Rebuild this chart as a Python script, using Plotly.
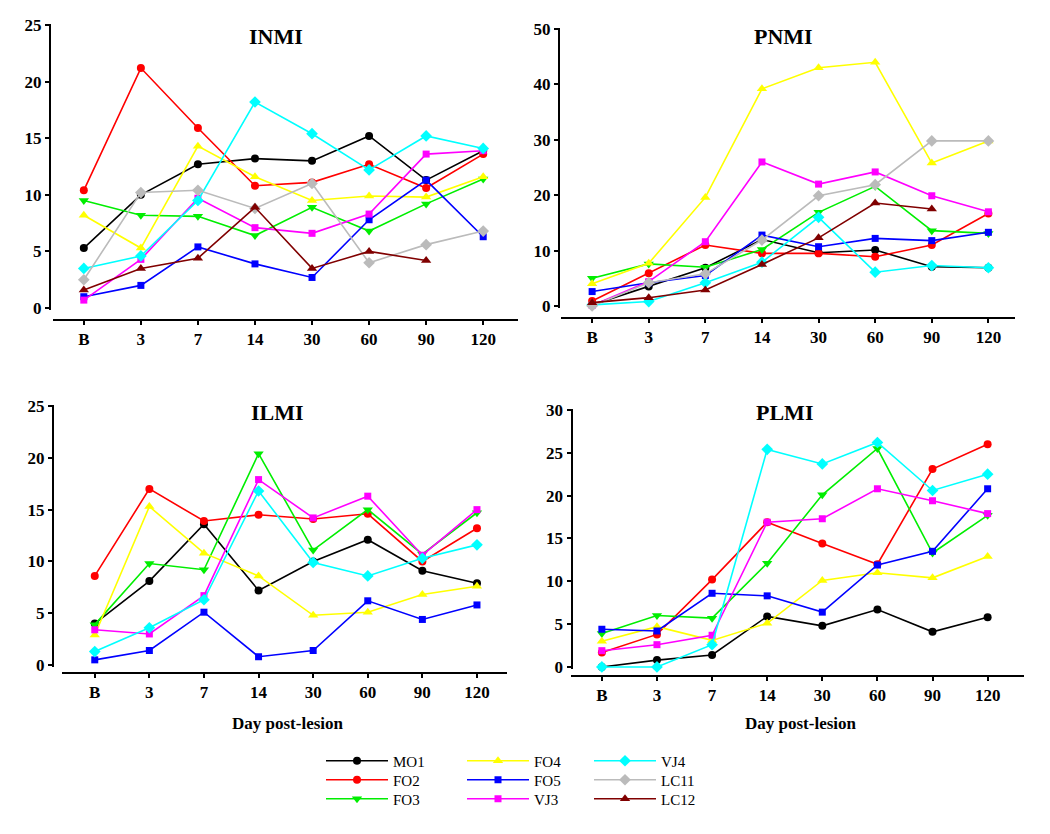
import plotly.graph_objects as go

# ---------------- data ----------------
days = ["B", "3", "7", "14", "30", "60", "90", "120"]

series_names = ["MO1", "FO2", "FO3", "FO4", "FO5", "VJ3", "VJ4", "LC11", "LC12"]

INMI = {
    "MO1": [5.3, 10.0, 12.7, 13.2, 13.0, 15.2, 11.3, 13.9],
    "FO2": [10.4, 21.2, 15.9, 10.8, 11.1, 12.7, 10.6, 13.6],
    "FO3": [9.5, 8.2, 8.1, 6.4, 8.9, 6.8, 9.2, 11.4],
    "FO4": [8.2, 5.3, 14.3, 11.6, 9.5, 9.9, 9.8, 11.6],
    "FO5": [1.0, 2.0, 5.4, 3.9, 2.7, 7.8, 11.3, 6.3],
    "VJ3": [0.7, 4.3, 9.7, 7.1, 6.6, 8.3, 13.6, 13.9],
    "VJ4": [3.5, 4.6, 9.5, 18.2, 15.4, 12.2, 15.2, 14.1],
    "LC11": [2.5, 10.2, 10.4, 8.8, 11.0, 4.0, 5.6, 6.8],
    "LC12": [1.6, 3.5, 4.4, 8.9, 3.5, 5.0, 4.2, None],
}

PNMI = {
    "MO1": [0.2, 3.5, 6.9, 12.0, 9.6, 10.1, 7.1, 6.9],
    "FO2": [0.9, 5.9, 11.0, 9.5, 9.5, 8.9, 11.0, 16.7],
    "FO3": [5.0, 7.6, 7.0, 10.2, 16.9, 21.6, 13.6, 13.1],
    "FO4": [4.0, 7.7, 19.6, 39.2, 43.0, 44.0, 25.8, 29.8],
    "FO5": [2.6, 4.2, 5.5, 12.8, 10.7, 12.2, 11.8, 13.3],
    "VJ3": [0.1, 4.4, 11.6, 26.0, 22.0, 24.2, 19.9, 17.0],
    "VJ4": [0.2, 0.8, 4.2, 7.9, 16.0, 6.1, 7.3, 6.9],
    "LC11": [0.0, 4.2, 5.8, 11.9, 19.9, 21.9, 29.8, 29.8],
    "LC12": [0.6, 1.5, 2.9, 7.5, 12.3, 18.6, 17.5, None],
}

ILMI = {
    "MO1": [4.0, 8.1, 13.6, 7.2, 10.0, 12.1, 9.1, 7.9],
    "FO2": [8.6, 17.0, 13.9, 14.5, 14.1, 14.6, 10.0, 13.2],
    "FO3": [3.9, 9.8, 9.2, 20.4, 11.1, 15.0, 10.7, 14.7],
    "FO4": [2.9, 15.3, 10.8, 8.6, 4.8, 5.1, 6.8, 7.6],
    "FO5": [0.5, 1.4, 5.1, 0.8, 1.4, 6.2, 4.4, 5.8],
    "VJ3": [3.4, 3.0, 6.7, 17.9, 14.2, 16.3, 10.6, 15.0],
    "VJ4": [1.3, 3.6, 6.3, 16.8, 9.9, 8.6, 10.3, 11.6],
}

PLMI = {
    "MO1": [0.0, 0.8, 1.4, 5.9, 4.8, 6.7, 4.1, 5.8],
    "FO2": [1.7, 3.8, 10.2, 16.9, 14.4, 12.0, 23.1, 26.0],
    "FO3": [3.9, 6.0, 5.7, 12.1, 20.1, 25.5, 13.3, 17.7],
    "FO4": [3.0, 4.7, 3.1, 5.1, 10.1, 11.0, 10.4, 12.9],
    "FO5": [4.4, 4.2, 8.6, 8.3, 6.4, 11.9, 13.5, 20.8],
    "VJ3": [1.9, 2.6, 3.7, 16.9, 17.3, 20.8, 19.4, 17.9],
    "VJ4": [0.0, 0.0, 2.6, 25.4, 23.7, 26.2, 20.6, 22.5],
}

panel_titles = ["INMI", "PNMI", "ILMI", "PLMI"]
panel_data = [INMI, PNMI, ILMI, PLMI]
x_title = "Day post-lesion"

# ---------------- styles ----------------
styles = {
    "MO1": dict(color="#000000", symbol="circle", size=8),
    "FO2": dict(color="#FF0000", symbol="circle", size=8),
    "FO3": dict(color="#00EE00", symbol="triangle-down", size=9),
    "FO4": dict(color="#FFFF00", symbol="triangle-up", size=9),
    "FO5": dict(color="#0000FF", symbol="square", size=7),
    "VJ3": dict(color="#FF00FF", symbol="square", size=7),
    "VJ4": dict(color="#00FFFF", symbol="diamond", size=9),
    "LC11": dict(color="#BBBBBB", symbol="diamond", size=9),
    "LC12": dict(color="#800000", symbol="triangle-up", size=9),
}

# page has an 8px body margin: the figure occupies page pixels 8..1050, 8..834
OFF = 8
W, H = 1050 - OFF, 834 - OFF
def px(x): return (x - OFF) / W
def py(y): return 1 - (y - OFF) / H

layouts = [
    dict(xdom=(px(53), px(518)), xrange=(-0.54, 7.61), ydom=(py(310.3), py(23.9)),
         yrange=(-0.2, 25.1), ypos=px(50), xpos=py(320), dtick=5, title=(276, 36)),
    dict(xdom=(px(561), px(1015)), xrange=(-0.55, 7.47), ydom=(py(308.2), py(27.9)),
         yrange=(-0.4, 50.2), ypos=px(559), xpos=py(318), dtick=10, title=(783, 36)),
    dict(xdom=(px(62), px(507)), xrange=(-0.60, 7.55), ydom=(py(667.1), py(405.0)),
         yrange=(-0.2, 25.1), ypos=px(53), xpos=py(673), dtick=5, title=(277, 412)),
    dict(xdom=(px(571), px(1024)), xrange=(-0.56, 7.66), ydom=(py(669.1), py(409.1)),
         yrange=(-0.25, 30.1), ypos=px(571.5), xpos=py(676), dtick=5, title=(784, 412)),
]

# legend: 3 columns x 3 rows, one legend box per entry
legend_cols = [321, 462, 589]
legend_rows = [761, 780, 799]

FONT = "Liberation Serif, Times New Roman, serif"

fig = go.Figure()
annotations = []
legend_ids = {}
for j, name in enumerate(series_names):
    legend_ids[name] = "legend" if j == 0 else "legend" + str(j + 1)

for i, (title, data, L) in enumerate(zip(panel_titles, panel_data, layouts)):
    k = "" if i == 0 else str(i + 1)
    for name in series_names:
        if name not in data:
            continue
        st = styles[name]
        fig.add_trace(go.Scatter(
            x=days, y=data[name], name=name, mode="lines+markers",
            xaxis="x" + k, yaxis="y" + k,
            line=dict(color=st["color"], width=1.6),
            marker=dict(color=st["color"], symbol=st["symbol"], size=st["size"], line=dict(width=0)),
            cliponaxis=False, connectgaps=False,
            showlegend=(i == 0), legend=legend_ids[name],
        ))
    fig.update_layout(**{
        "xaxis" + k: dict(
            type="category", domain=list(L["xdom"]), range=list(L["xrange"]),
            anchor="free", position=L["xpos"], showline=True, linecolor="black", linewidth=2,
            ticks="outside", ticklen=4, tickwidth=1.5, tickcolor="black",
            tickfont=dict(family=FONT, size=17, color="black", weight="bold"),
            ticklabelstandoff=0, showgrid=False, zeroline=False, fixedrange=True,
            automargin=False,
        ),
        "yaxis" + k: dict(
            domain=list(L["ydom"]), range=list(L["yrange"]), dtick=L["dtick"], tick0=0,
            anchor="free", position=L["ypos"], showline=True, linecolor="black", linewidth=2,
            ticks="outside", ticklen=4, tickwidth=1.5, tickcolor="black",
            tickfont=dict(family=FONT, size=17, color="black", weight="bold"),
            showgrid=False, zeroline=False, fixedrange=True, automargin=False,
        ),
    })
    annotations.append(dict(
        text=title, xref="paper", yref="paper", x=px(L["title"][0]), y=py(L["title"][1]),
        xanchor="center", yanchor="middle", showarrow=False,
        font=dict(family=FONT, size=22, color="black", weight="bold"),
    ))

for xc in (288, 801):
    annotations.append(dict(
        text=x_title, xref="paper", yref="paper", x=px(xc), y=py(723),
        xanchor="center", yanchor="middle", showarrow=False,
        font=dict(family=FONT, size=17, color="black", weight="bold"),
    ))

legend_common = dict(
    orientation="v", yanchor="middle", xanchor="left", bgcolor="rgba(0,0,0,0)",
    font=dict(family=FONT, size=15, color="black"), itemwidth=62,
    tracegroupgap=0, borderwidth=0,
)
legend_layout = {}
for j, name in enumerate(series_names):
    col, row = divmod(j, 3)
    legend_layout[legend_ids[name]] = dict(
        x=px(legend_cols[col]), y=py(legend_rows[row]), **legend_common)

fig.update_layout(
    width=W, height=H, margin=dict(l=0, r=0, t=0, b=0, autoexpand=False),
    paper_bgcolor="white", plot_bgcolor="white",
    annotations=annotations,
    **legend_layout,
)

fig.write_html("out.html")
